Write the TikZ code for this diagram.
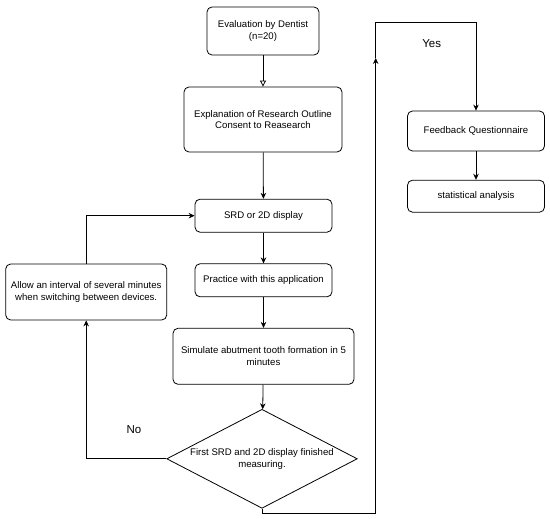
\documentclass[tikz,border=0pt]{standalone}
\usepackage{fontspec}
\setmainfont{Liberation Sans}
\usetikzlibrary{arrows.meta,shapes.geometric}
\begin{document}
\begin{tikzpicture}[x=1pt,y=-1pt,
  box/.style={draw, rounded corners=5pt, line width=0.8pt, align=center, inner sep=0pt,
    font=\fontsize{9.6}{11.7}\selectfont},
  dia/.style={draw, diamond, aspect=1.92, line width=0.8pt, align=center, inner sep=0pt,
    font=\fontsize{9.6}{11.7}\selectfont},
  ar/.style={-{Stealth[length=6pt,width=5.5pt]}, line width=0.8pt},
  oar/.style={-{Triangle[open,length=6pt,width=6pt]}, line width=0.8pt},
  lbl/.style={font=\fontsize{11.5}{13}\selectfont, inner sep=0pt}]
\useasboundingbox (0,0) rectangle (550,519);

\node[box, minimum width=112pt, minimum height=48pt] (eval) at (263,31) {Evaluation by Dentist\\(n=20)};
\node[box, minimum width=158pt, minimum height=65pt] (expl) at (263,119.5) {Explanation of Research Outline\\Consent to Reasearch};
\node[box, minimum width=137pt, minimum height=33pt] (srd) at (263.5,215.7) {SRD or 2D display};
\node[box, minimum width=137pt, minimum height=33pt] (prac) at (263.5,280.3) {Practice with this application};
\node[box, minimum width=181pt, minimum height=56pt] (sim) at (263.5,356.3) {Simulate abutment tooth formation in 5\\minutes};
\node[box, minimum width=161pt, minimum height=56pt] (allow) at (86.2,292) {Allow an interval of several minutes\\when switching between devices.};
\node[dia, minimum width=190.6pt, minimum height=99pt] (d) at (262,458.8) {};
\node[align=center, inner sep=0pt, font=\fontsize{9.6}{11.7}\selectfont] (dt) at (d.center) {First SRD and 2D display finished\\measuring.};
\node[box, minimum width=137pt, minimum height=40pt] (fb) at (476,131) {Feedback Questionnaire};
\node[box, minimum width=137pt, minimum height=32pt] (stat) at (476,196.2) {statistical analysis};

\node[lbl] (no) at (134,429.3) {No};
\node[lbl] (yes) at (431.7,43.3) {Yes};

\coordinate (ymid) at (375.7,58);
\coordinate (ytop) at (375.7,22.7);

\draw[oar] (eval) -- (expl);
\draw[ar] (expl) -- (srd);
\draw[ar] (srd) -- (prac);
\draw[ar] (prac) -- (sim);
\draw[ar] (sim) -- (d);
\draw[ar] (d.west) -| (allow.south);
\draw[ar] (allow.north) |- (srd.west);
\draw[ar] (d.south) -- ++(0,5) -| (ymid);
\draw[ar] (ymid) -- (ytop) -| (fb.north);
\draw[ar] (fb) -- (stat);
\end{tikzpicture}
\end{document}
